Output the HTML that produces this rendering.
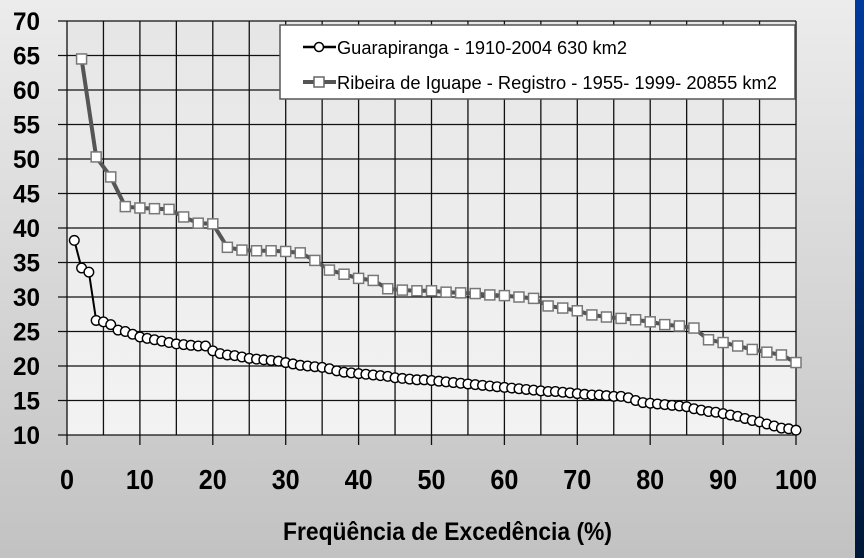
<!DOCTYPE html>
<html><head><meta charset="utf-8"><style>
html,body{margin:0;padding:0;width:864px;height:558px;overflow:hidden;font-family:"Liberation Sans",sans-serif}
</style></head><body>
<svg id="chart" width="864" height="558" viewBox="0 0 864 558" xmlns="http://www.w3.org/2000/svg">
<defs>
<linearGradient id="bg" x1="0" y1="0" x2="0" y2="1"><stop offset="0" stop-color="#ececec"/><stop offset="1" stop-color="#c2c2c2"/></linearGradient>
<linearGradient id="pbg" x1="0" y1="0" x2="0" y2="1"><stop offset="0" stop-color="#e6e6e6"/><stop offset="1" stop-color="#f3f3f3"/></linearGradient>
<linearGradient id="blue" x1="0" y1="0" x2="0" y2="1"><stop offset="0" stop-color="#003a9e"/><stop offset="1" stop-color="#001838"/></linearGradient>
</defs>
<rect x="0" y="0" width="864" height="558" fill="url(#bg)"/>
<rect x="855" y="0" width="9" height="558" fill="url(#blue)"/>
<rect x="67" y="21" width="729" height="414" fill="url(#pbg)"/>
<g id="grid"></g>
<g id="series"></g>
<g id="labels" font-weight="bold" fill="#000"></g>
<text x="283" y="540" font-size="25" font-weight="bold" textLength="329" lengthAdjust="spacingAndGlyphs">Freqüência de Excedência (%)</text>
<g>
<rect x="280" y="25" width="515" height="74" fill="#fff" stroke="#555" stroke-width="1.5"/>
<g>
<line x1="303" y1="47" x2="336" y2="47" stroke="#000" stroke-width="2.5"/>
<circle cx="319" cy="47" r="4.5" fill="#fff" stroke="#000" stroke-width="1.5"/>
<text x="337" y="54" font-size="18" textLength="290" lengthAdjust="spacingAndGlyphs">Guarapiranga - 1910-2004 630 km2</text>
</g>
<g>
<line x1="303" y1="82" x2="336" y2="82" stroke="#555" stroke-width="4"/>
<rect x="314" y="77" width="10" height="10" fill="#fff" stroke="#666" stroke-width="1.5"/>
<text x="337" y="89" font-size="18" textLength="440" lengthAdjust="spacingAndGlyphs">Ribeira de Iguape - Registro - 1955- 1999- 20855 km2</text>
</g>
</g>
</svg>
<script>
const xTicks=[0,10,20,30,40,50,60,70,80,90,100];
const yTicks=[10,15,20,25,30,35,40,45,50,55,60,65,70];
const guaraX=[];for(let i=1;i<=100;i++)guaraX.push(i);
const guaraY=[38.2,34.2,33.6,26.6,26.4,26,25.2,25,24.6,24.2,24,23.8,23.6,23.4,23.2,23.1,23,22.9,22.9,22.2,21.8,21.6,21.5,21.3,21.1,21,20.9,20.8,20.7,20.5,20.3,20.1,20,19.9,19.8,19.6,19.3,19.1,19,18.9,18.8,18.7,18.6,18.5,18.3,18.2,18.1,18,18,17.9,17.8,17.7,17.6,17.5,17.4,17.3,17.2,17.1,17,16.9,16.8,16.7,16.6,16.5,16.4,16.3,16.3,16.2,16.1,16,15.9,15.8,15.8,15.7,15.6,15.6,15.4,15,14.7,14.6,14.5,14.4,14.3,14.2,14.1,13.8,13.6,13.4,13.3,13.1,12.9,12.7,12.4,12.1,11.9,11.6,11.3,11,10.9,10.7];
const ribX=[];for(let i=2;i<=100;i+=2)ribX.push(i);
const ribY=[64.5,50.3,47.4,43.1,42.9,42.8,42.7,41.6,40.7,40.6,37.2,36.8,36.7,36.7,36.6,36.4,35.3,33.9,33.3,32.7,32.4,31.2,31,30.9,30.9,30.7,30.6,30.5,30.3,30.2,30,29.8,28.7,28.4,28,27.4,27.1,26.9,26.7,26.4,26,25.8,25.5,23.8,23.4,22.9,22.4,22,21.6,20.5];
const NS='http://www.w3.org/2000/svg';
const X0=67,X1=796,Y0=435,Y1=21;
function sx(v){return X0+(v-0)/100*(X1-X0);}
function sy(v){return Y0-(v-10)/60*(Y0-Y1);}
function mk(tag,attrs,parent){const e=document.createElementNS(NS,tag);for(const k in attrs)e.setAttribute(k,attrs[k]);parent.appendChild(e);return e;}
const grid=document.getElementById('grid'),ser=document.getElementById('series'),lab=document.getElementById('labels');
for(let v=0;v<=100;v+=5){const l=mk('line',{x1:sx(v),x2:sx(v),y1:Y1,y2:(v%10===0?Y0+10:Y0),stroke:'#111','stroke-width':1.3},grid);

}
yTicks.forEach(v=>{const l=mk('line',{x1:X0-9,x2:X1,y1:sy(v),y2:sy(v),stroke:'#111','stroke-width':1.3},grid);


const s=String(v);const w=13.5*s.length;
const t=mk('text',{x:40-w,y:sy(v)+9,'font-size':25,textLength:w,lengthAdjust:'spacingAndGlyphs'},lab);t.textContent=s;

});
xTicks.forEach(v=>{const s=String(v);const w=14*s.length;
const t=mk('text',{x:sx(v)-w/2,y:489,'font-size':28,textLength:w,lengthAdjust:'spacingAndGlyphs'},lab);t.textContent=s;

});
const rp=mk('polyline',{points:ribX.map((x,i)=>sx(x)+','+sy(ribY[i])).join(' '),fill:'none',stroke:'#555','stroke-width':4},ser);


ribX.forEach((x,i)=>{const r=mk('rect',{x:sx(x)-5,y:sy(ribY[i])-5,width:10,height:10,fill:'#fff',stroke:'#777','stroke-width':1.5},ser);

});
const gp=mk('polyline',{points:guaraX.map((x,i)=>sx(x)+','+sy(guaraY[i])).join(' '),fill:'none',stroke:'#000','stroke-width':2},ser);


guaraX.forEach((x,i)=>{const c=mk('circle',{cx:sx(x),cy:sy(guaraY[i]),r:4.8,fill:'#fff',stroke:'#000','stroke-width':1.4},ser);

});
</script>
</body></html>
